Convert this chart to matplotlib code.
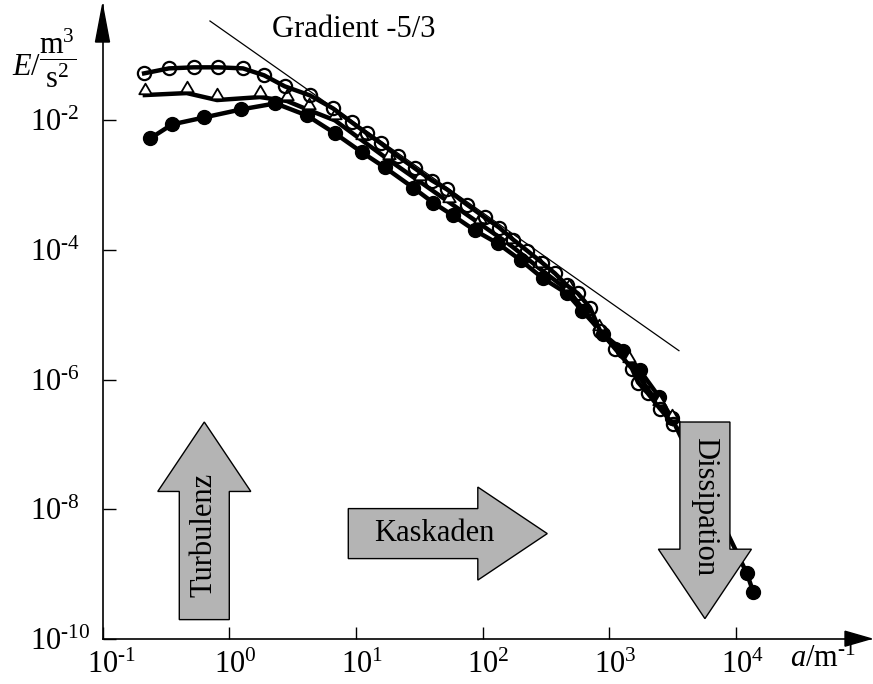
import numpy as np
import matplotlib
matplotlib.use("Agg")
import matplotlib.pyplot as plt
from matplotlib.patches import Polygon
from matplotlib.path import Path
from matplotlib.transforms import ScaledTranslation

plt.rcParams['font.family'] = ['Liberation Serif', 'DejaVu Serif']
plt.rcParams['mathtext.fontset'] = 'custom'
plt.rcParams['mathtext.rm'] = 'Liberation Serif'
plt.rcParams['mathtext.it'] = 'Liberation Serif:italic'
plt.rcParams['mathtext.bf'] = 'Liberation Serif:bold'

# --- Messreihen: Wellenzahl a in 1/m, Energiespektrum E in m^3/s^2 ---
a_kreis = [0.213, 0.335, 0.527, 0.816, 1.285, 1.885, 2.75, 4.34, 6.6, 9.3, 12.2,
           15.8, 21.5, 29.3, 39.9, 52.4, 75.4, 104, 135, 174, 224, 294, 373, 464,
           566, 705, 845, 1110, 1510, 1690, 2020, 2510, 3180]
E_kreis = [5.32e-2, 6.35e-2, 6.59e-2, 6.59e-2, 6.35e-2, 4.96e-2, 3.35e-2, 2.43e-2,
           1.53e-2, 9.3e-3, 6.3e-3, 4.41e-3, 2.78e-3, 1.81e-3, 1.18e-3, 8.6e-4,
           5.0e-4, 3.18e-4, 2.22e-4, 1.45e-4, 9.8e-5, 6.4e-5, 4.34e-5, 2.83e-5,
           2.13e-5, 1.29e-5, 5.7e-6, 3.0e-6, 1.48e-6, 9.0e-7, 6.1e-7, 3.56e-7, 2.09e-7]

a_punkt = [0.238, 0.354, 0.634, 1.25, 2.32, 4.11, 6.84, 11.2, 16.9, 28.2, 40.6,
           58.3, 87, 132, 201, 300, 464, 609, 892, 1280, 1750, 2490, 3100,
           12200, 13700]
E_punkt = [5.27e-3, 8.67e-3, 1.11e-2, 1.48e-2, 1.83e-2, 1.19e-2, 6.3e-3, 3.2e-3,
           1.88e-3, 9.2e-4, 5.4e-4, 3.41e-4, 2.0e-4, 1.26e-4, 6.9e-5, 3.63e-5,
           2.13e-5, 1.16e-5, 5.1e-6, 2.8e-6, 1.38e-6, 5.3e-7, 2.59e-7,
           1.02e-9, 5.25e-10]

a_dreieck = [0.216, 0.462, 0.802, 1.75, 2.86, 4.26, 6.84, 11.2, 18.4, 31.8, 54.8,
             94.6, 163, 281, 485, 837, 1440, 2490, 3100]
E_dreieck = [2.46e-2, 2.64e-2, 2.06e-2, 2.29e-2, 1.99e-2, 1.44e-2, 1.0e-2, 4.91e-3,
             2.41e-3, 1.14e-3, 5.4e-4, 2.56e-4, 1.22e-4, 5.2e-5, 2.29e-5, 5.7e-6,
             1.83e-6, 3.96e-7, 2.33e-7]

# Referenzgerade (Kolmogorov-Bereich)
a_gerade = [0.705, 3548]
E_gerade = [0.342, 2.79e-6]

x_ticks = [1e-1, 1e0, 1e1, 1e2, 1e3, 1e4]
x_exp = ['-1', '0', '1', '2', '3', '4']
y_ticks = [1e-10, 1e-8, 1e-6, 1e-4, 1e-2]
y_exp = ['-10', '-8', '-6', '-4', '-2']

FS = 22
GRAU = '#b4b4b4'

# Dreieck, dessen Basis auf dem Datenpunkt sitzt
dreieck = Path([(-1.0, 0.2), (1.0, 0.2), (0.0, 1.9), (-1.0, 0.2)],
               [Path.MOVETO, Path.LINETO, Path.LINETO, Path.CLOSEPOLY])


def zehner(e):
    # Zehnerpotenz mit Bindestrich statt Minuszeichen
    return r'$10^{\text{%s}}$' % e


def block_pfeil(ax, start, ende, text, rotation, body_w=36, head_w=67, head_len=50):
    """Grauer Blockpfeil von start nach ende (Datenkoordinaten), Breiten in pt."""
    fig = ax.figure
    p0 = ax.transData.transform(start)
    p1 = ax.transData.transform(ende)
    d = p1 - p0
    u = d / np.hypot(*d)
    n = np.array([-u[1], u[0]])
    s = fig.dpi / 72.0
    bw, hw, hl = body_w * s / 2, head_w * s / 2, head_len * s
    hals = p1 - u * hl
    pts = [p0 + n * bw, hals + n * bw, hals + n * hw, p1,
           hals - n * hw, hals - n * bw, p0 - n * bw]
    pts = fig.transFigure.inverted().transform(pts)
    ax.add_patch(Polygon(pts, closed=True, transform=fig.transFigure,
                         facecolor=GRAU, edgecolor='black', lw=1.0,
                         zorder=5, clip_on=False))
    mitte = fig.transFigure.inverted().transform(p0 + 0.43 * d)
    ax.text(mitte[0], mitte[1], text, transform=fig.transFigure, rotation=rotation,
            ha='center', va='center', fontsize=FS, zorder=6)


W, H = 873, 684
fig = plt.figure(figsize=(W / 100, H / 100), dpi=100)
ax = fig.add_axes([102.5 / W, (H - 638.7) / H, (871 - 102.5) / W, (638.7 - 5) / H])
ax.set_xscale('log')
ax.set_yscale('log')
ax.set_xlim(1e-1, 10 ** 5.066)
ax.set_ylim(1e-10, 10 ** -0.219)

ax.plot(a_gerade, E_gerade, color='black', lw=0.9, zorder=2)

ax.plot(a_punkt, E_punkt, color='black', lw=3.2, marker='o', ms=10,
        markerfacecolor='black', markeredgecolor='black', zorder=3)
ax.plot(a_dreieck, E_dreieck, color='black', lw=3.2, marker=dreieck, ms=17,
        markerfacecolor='white', markeredgecolor='black', markeredgewidth=1.3, zorder=3)
ax.plot(a_kreis, E_kreis, color='black', lw=3.2, marker='o', ms=9.5,
        markerfacecolor='none', markeredgecolor='black', markeredgewidth=1.6, zorder=4)

# Achsen mit Pfeilspitzen
for side in ['top', 'right']:
    ax.spines[side].set_visible(False)
for side in ['left', 'bottom']:
    ax.spines[side].set_linewidth(1.2)
ax.add_patch(Polygon([(-0.0091, 0.9416), (0.0091, 0.9416), (0, 1.0)], closed=True,
                     transform=ax.transAxes, color='black', clip_on=False, zorder=7))
ax.add_patch(Polygon([(0.9662, -0.0118), (0.9662, 0.0118), (1.0, 0)], closed=True,
                     transform=ax.transAxes, color='black', clip_on=False, zorder=7))

ax.set_xticks(x_ticks)
ax.set_xticklabels([zehner(e) for e in x_exp])
ax.set_yticks(y_ticks)
ax.set_yticklabels([zehner(e) for e in y_exp])
ax.minorticks_off()
ax.tick_params(which='major', direction='in', length=9, width=1.0, labelsize=FS)
ax.tick_params(axis='x', pad=9)
ax.tick_params(axis='y', pad=52)
for lbl in ax.get_yticklabels():
    lbl.set_horizontalalignment('left')
# die "10" mittig unter dem Strich, Exponent rechts daneben
links = ScaledTranslation(-11 / 72, 0, fig.dpi_scale_trans)
for lbl in ax.get_xticklabels():
    lbl.set_horizontalalignment('left')
    lbl.set_transform(lbl.get_transform() + links)

block_pfeil(ax, (0.636, 1.97e-10), (0.636, 2.21e-7), 'Turbulenz', 90)
block_pfeil(ax, (8.71, 4.19e-9), (324, 4.19e-9), 'Kaskaden', 0)
block_pfeil(ax, (5690, 2.21e-7), (5690, 2.04e-10), 'Dissipation', -90)

fig.text(272 / W, (H - 37) / H, 'Gradient -5/3', fontsize=FS, ha='left', va='baseline')
fig.text(12 / W, (H - 75) / H, r'$E$/', fontsize=FS, ha='left', va='baseline')
fig.text(57.5 / W, (H - 58.5) / H, r'$\dfrac{\mathrm{m}^3}{\mathrm{s}^2}$', fontsize=FS,
         ha='center', va='center')
fig.text(790 / W, (H - 667) / H, r'$a$/m$^{\text{-1}}$', fontsize=FS, ha='left',
         va='baseline')

fig.savefig('out.png', dpi=100)
